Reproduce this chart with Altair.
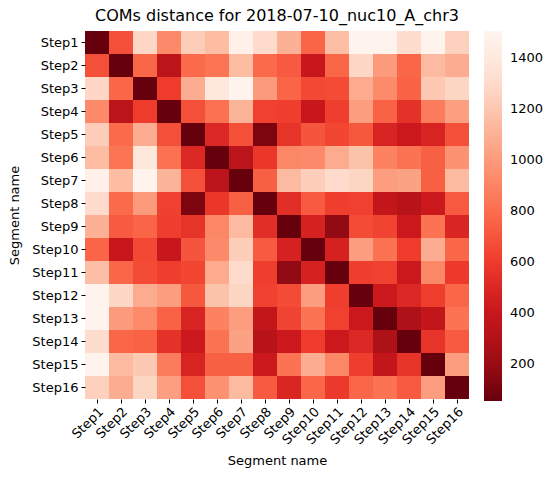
import altair as alt
import pandas as pd
import numpy as np

steps = [f"Step{i}" for i in range(1, 17)]

# distance matrix (rows = Step1..Step16, cols = Step1..Step16)
row01 = [55, 680, 1280, 920, 1230, 1150, 1460, 1300, 1100, 760, 1160, 1490, 1490, 1310, 1490, 1250]
row02 = [680, 55, 770, 340, 780, 830, 1150, 780, 720, 400, 770, 1280, 1000, 770, 1140, 1080]
row03 = [1280, 770, 55, 600, 1080, 1380, 1490, 1000, 760, 650, 660, 1070, 930, 750, 1210, 1270]
row04 = [920, 340, 600, 55, 680, 810, 1110, 620, 610, 400, 610, 1010, 750, 550, 860, 1020]
row05 = [1230, 780, 1080, 680, 55, 500, 680, 120, 560, 700, 640, 710, 480, 420, 480, 680]
row06 = [1150, 830, 1380, 810, 500, 55, 340, 580, 910, 920, 1070, 1180, 890, 820, 740, 960]
row07 = [1460, 1150, 1490, 1110, 680, 340, 55, 740, 1140, 1240, 1300, 1270, 1010, 1030, 740, 1140]
row08 = [1300, 780, 1000, 620, 120, 580, 740, 55, 530, 720, 610, 620, 380, 320, 420, 720]
row09 = [1100, 720, 760, 610, 560, 910, 1140, 530, 55, 470, 180, 660, 630, 420, 820, 490]
row10 = [760, 400, 650, 400, 700, 920, 1240, 720, 470, 55, 470, 1010, 820, 600, 1080, 770]
row11 = [1160, 770, 660, 610, 640, 1070, 1300, 610, 180, 470, 55, 610, 620, 420, 910, 590]
row12 = [1490, 1280, 1070, 1010, 710, 1180, 1270, 620, 660, 1010, 610, 55, 420, 500, 610, 770]
row13 = [1490, 1000, 930, 750, 480, 890, 1010, 380, 630, 820, 620, 420, 55, 280, 380, 820]
row14 = [1310, 770, 750, 550, 420, 820, 1030, 320, 420, 600, 420, 500, 280, 55, 560, 720]
row15 = [1490, 1140, 1210, 860, 480, 740, 740, 420, 820, 1080, 910, 610, 380, 560, 55, 1010]
row16 = [1250, 1080, 1270, 1020, 680, 960, 1140, 720, 490, 770, 590, 770, 820, 720, 1010, 55]

matrix = [row01, row02, row03, row04, row05, row06, row07, row08,
          row09, row10, row11, row12, row13, row14, row15, row16]

records = []
for i, r in enumerate(steps):
    for j, c in enumerate(steps):
        records.append({"row": r, "col": c, "dist": matrix[i][j]})
df = pd.DataFrame(records)

vmin, vmax = 55, 1505
reds_r = ["#67000d", "#a50f15", "#cb181d", "#ef3b2c", "#fb6a4a",
          "#fc9272", "#fcbba1", "#fee0d2", "#fff5f0"]
dom = list(np.linspace(vmin, vmax, len(reds_r)))

FONT = "DejaVu Sans"
FS = 13

chart = alt.Chart(df).mark_rect().encode(
    x=alt.X("col:O", sort=steps, title="Segment name",
            scale=alt.Scale(paddingInner=0, paddingOuter=0),
            axis=alt.Axis(labelAngle=-45, labelAlign="right", labelBaseline="top",
                          domain=False, tickSize=4, labelPadding=2, titlePadding=8)),
    y=alt.Y("row:O", sort=steps, title="Segment name",
            scale=alt.Scale(paddingInner=0, paddingOuter=0),
            axis=alt.Axis(domain=False, tickSize=4, labelPadding=3, titlePadding=10)),
    color=alt.Color("dist:Q",
                    scale=alt.Scale(domain=dom, range=reds_r, interpolate="rgb"),
                    legend=alt.Legend(title=None, values=[200, 400, 600, 800, 1000, 1200, 1400],
                                      format="d",
                                      gradientLength=370, gradientThickness=18,
                                      offset=15, labelOffset=8, direction="vertical")),
).properties(
    width=384, height=368,
    padding={"left": 85, "top": 31, "right": 87, "bottom": 87},
    autosize=alt.AutoSizeParams(type="none"),
    title=alt.TitleParams("COMs distance for 2018-07-10_nuc10_A_chr3",
                          fontSize=16, fontWeight="normal", font=FONT,
                          anchor="middle", offset=7, color="black"),
).configure_view(strokeWidth=0).configure_axis(
    labelFont=FONT, titleFont=FONT, labelFontSize=FS, titleFontSize=FS,
    titleFontWeight="normal", labelColor="black", titleColor="black",
    tickColor="black"
).configure_legend(labelFont=FONT, labelFontSize=FS, labelColor="black")

chart.save("out.html", embed_options={"renderer": "svg", "actions": False})
